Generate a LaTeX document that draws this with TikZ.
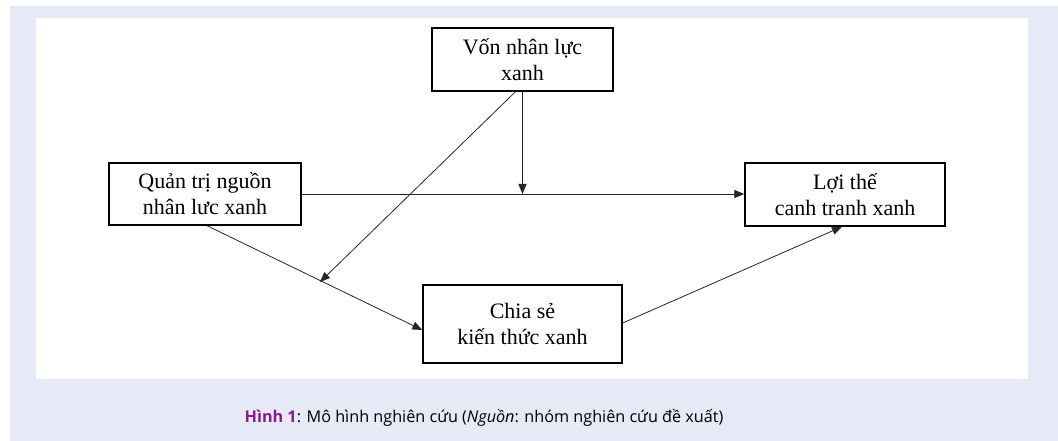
\documentclass[tikz,border=0pt]{standalone}
\usepackage{fontspec}
\setmainfont{Liberation Serif}
\newfontfamily\capfont{Open Sans}
\usetikzlibrary{arrows.meta,calc}
\definecolor{bgblue}{RGB}{230,234,246}
\definecolor{hinhpurple}{RGB}{140,24,140}
\tikzset{
  box/.style={draw=black, line width=1.4pt, fill=white, align=center, inner sep=0pt,
    font=\fontsize{22}{26}\selectfont},
  conn/.style={draw=black!85, line width=0.8pt, -{Triangle[length=10pt,width=8pt]}},
}
\begin{document}
\begin{tikzpicture}[x=1pt,y=-1pt]
\useasboundingbox (0,0) rectangle (1058,441);
\fill[white] (0,0) rectangle (1058,441);
\fill[bgblue] (10,6) rectangle (1058,441);
\fill[white] (36,18) rectangle (1028,379);

\node[box, minimum width=181pt, minimum height=63pt] (von) at (522.5,59.5) {Vốn nhân lực\\xanh};
\node[box, minimum width=192pt, minimum height=62pt] (qt) at (205,194) {Quản trị nguồn\\nhân lưc xanh};
\node[box, minimum width=200pt, minimum height=63pt] (lt) at (845,194.5) {Lợi thế\\canh tranh xanh};
\node[box, minimum width=199pt, minimum height=78pt] (cs) at (522.5,324) {Chia sẻ\\kiến thức xanh};

\coordinate (m1) at (522.5,194);
\coordinate (m2) at (320,282);

\draw[conn] (qt.east) -- (lt.west |- qt.east);
\draw[conn] (von.south) -- (m1);
\draw[conn] ([xshift=-7pt]von.south) -- (m2);
\draw[conn] ([xshift=2pt]qt.south) -- ([yshift=-6pt]cs.west);
\draw[conn] ([yshift=1pt]cs.east) -- ([xshift=-3pt]lt.south);

\node[anchor=base, font=\capfont\fontsize{16.2}{19}\selectfont, inner sep=0pt] (cap) at (484,422)
  {\textcolor{hinhpurple}{\textbf{Hình 1}}: Mô hình nghiên cứu (\textit{Nguồn}: nhóm nghiên cứu đề xuất)};
\end{tikzpicture}
\end{document}
